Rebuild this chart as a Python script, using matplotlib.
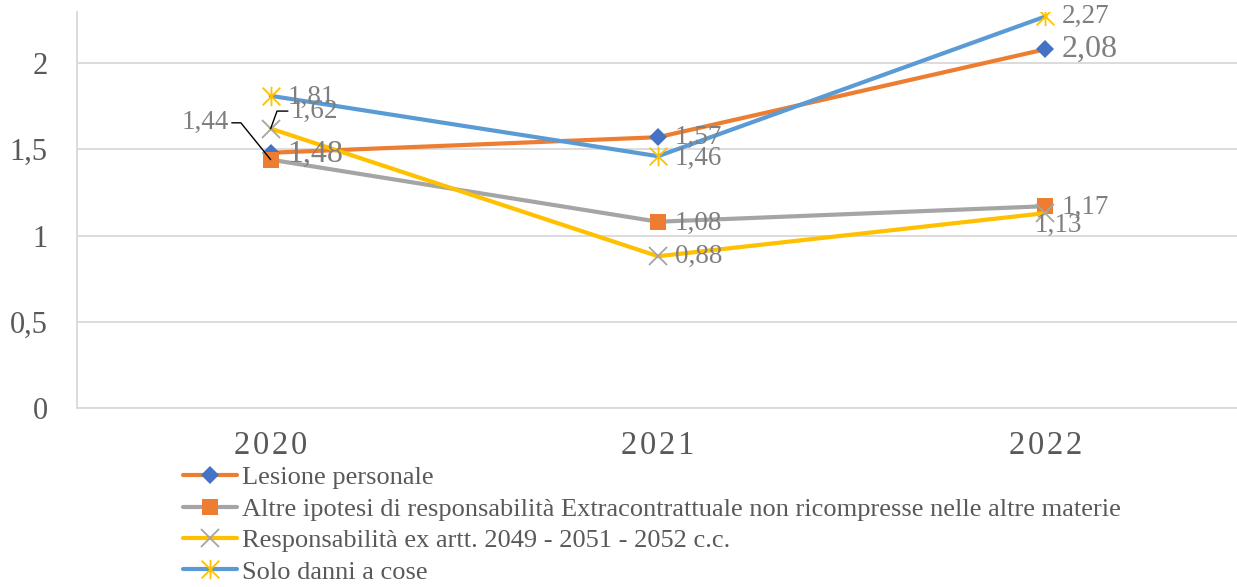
import matplotlib
matplotlib.use("Agg")
import matplotlib.pyplot as plt
from matplotlib.path import Path

plt.rcParams['font.family'] = ['Liberation Serif', 'DejaVu Serif']

years = ["2020", "2021", "2022"]
series_names = [
    "Lesione personale",
    "Altre ipotesi di responsabilità Extracontrattuale non ricompresse nelle altre materie",
    "Responsabilità ex artt. 2049 - 2051 - 2052 c.c.",
    "Solo danni a cose",
]
lesione = [1.48, 1.57, 2.08]
altre = [1.44, 1.08, 1.17]
responsabilita = [1.62, 0.88, 1.13]
solo_danni = [1.81, 1.46, 2.27]
label_texts = [
    ["1,48", "1,57", "2,08"],
    ["1,44", "1,08", "1,17"],
    ["1,62", "0,88", "1,13"],
    ["1,81", "1,46", "2,27"],
]
yticks = [0, 0.5, 1, 1.5, 2]
ytick_labels = ["0", "0,5", "1", "1,5", "2"]

# asterisk marker: x plus vertical bar
ast = Path([(-1, -1), (1, 1), (-1, 1), (1, -1), (0, -1.1), (0, 1.1)],
           [Path.MOVETO, Path.LINETO, Path.MOVETO, Path.LINETO, Path.MOVETO, Path.LINETO])

styles = [
    dict(color="#ED7D31", marker="D", mfc="#4472C4", mec="#4472C4", ms=9, mew=0),
    dict(color="#A5A5A5", marker="s", mfc="#ED7D31", mec="#ED7D31", ms=12, mew=0),
    dict(color="#FFC000", marker="x", mfc="#A5A5A5", mec="#A5A5A5", ms=12.5, mew=1.3),
    dict(color="#5B9BD5", marker=ast, mfc="#FFC000", mec="#FFC000", ms=14, mew=1.3),
]
all_values = [lesione, altre, responsabilita, solo_danni]

fig = plt.figure(figsize=(12.37, 5.87), dpi=100)
ax = fig.add_axes([77 / 1237, 1 - 408 / 587, (1239 - 77) / 1237, (408 - 12) / 587])
x = list(range(len(years)))

for i, (vals, st, name) in enumerate(zip(all_values, styles, series_names)):
    ax.plot(x, vals, lw=3, solid_capstyle="round", label=name, zorder=3 + i, **st)

ax.set_xlim(-0.5, 2.5)
ax.set_ylim(0, 2.296)
ax.set_yticks(yticks)
ax.set_yticklabels(ytick_labels)
ax.set_xticks(x)
ax.set_xticklabels(["\u200a".join(y) for y in years])
ax.tick_params(axis="y", length=0, pad=21, labelsize=22, labelcolor="#595959")
ax.tick_params(axis="x", length=0, pad=16, labelsize=23.5, labelcolor="#595959")
ax.grid(axis="y", color="#D9D9D9", lw=1.3, zorder=0)
for s in ["top", "right"]:
    ax.spines[s].set_visible(False)
for s in ["left", "bottom"]:
    ax.spines[s].set_color("#D9D9D9")
    ax.spines[s].set_linewidth(1.3)

lab_color = "#7F7F7F"
small = 19.5
big = 23

def right_label(xi, v, t, size, dy=0):
    ax.annotate(t, (xi, v), xytext=(12, dy), textcoords="offset points",
                ha="left", va="center", fontsize=size, color=lab_color, zorder=10)

# Lesione personale
right_label(0, lesione[0], label_texts[0][0], big, -1)
right_label(1, lesione[1], label_texts[0][1], small, 0)
right_label(2, lesione[2], label_texts[0][2], big, 0)
# Altre ipotesi
ax.annotate(label_texts[1][0], (0, altre[0]), xytext=(-30, 26.5), textcoords="offset points",
            ha="right", va="center", fontsize=small, color=lab_color, zorder=10,
            arrowprops=dict(arrowstyle="-", color="black", lw=1, shrinkA=0, shrinkB=0,
                            relpos=(1, 0.5),
                            connectionstyle="angle,angleA=0,angleB=-51,rad=0"))
right_label(1, altre[1], label_texts[1][1], small, -1)
right_label(2, altre[2], label_texts[1][2], small, -1)
# Responsabilità
ax.annotate(label_texts[2][0], (0, responsabilita[0]), xytext=(14.4, 12.6), textcoords="offset points",
            ha="left", va="center", fontsize=small, color=lab_color, zorder=10,
            arrowprops=dict(arrowstyle="-", color="black", lw=1, shrinkA=0, shrinkB=0,
                            relpos=(0, 0.5),
                            connectionstyle="angle,angleA=0,angleB=70,rad=0"))
right_label(1, responsabilita[1], label_texts[2][1], small, 0)
ax.annotate(label_texts[2][2], (2, responsabilita[2]), xytext=(9.4, -8.6), textcoords="offset points",
            ha="center", va="center", fontsize=small, color=lab_color, zorder=10)
# Solo danni
right_label(0, solo_danni[0], label_texts[3][0], small, -1)
right_label(1, solo_danni[1], label_texts[3][1], small, -1.5)
right_label(2, solo_danni[2], label_texts[3][2], small, 0)

leg = fig.legend(loc="upper left", bbox_to_anchor=(183 / 1237, 1 - 466 / 587),
                 frameon=False, fontsize=19, labelcolor="#595959",
                 handlelength=2.05, handletextpad=0.18, labelspacing=0.3,
                 borderpad=0, borderaxespad=0)

fig.savefig("out.png", dpi=100)
